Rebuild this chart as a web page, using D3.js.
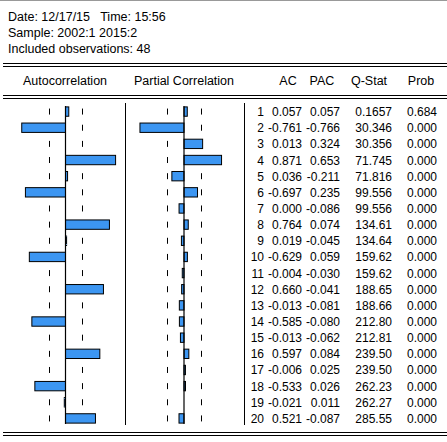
<!DOCTYPE html>
<html><head><meta charset="utf-8">
<script src="https://cdn.jsdelivr.net/npm/d3@7"></script>
<style>body{margin:0;background:#fff}svg{display:block}text{font-family:"Liberation Sans",Arial,sans-serif;font-size:12.5px;fill:#000;white-space:pre}.num{font-size:12px}</style>
</head><body>
<script>
const lags=d3.range(1,21);
const ac=[0.057,-0.761,0.013,0.871,0.036,-0.697,0.000,0.764,0.019,-0.629,-0.004,0.660,-0.013,-0.585,-0.013,0.597,-0.006,-0.533,-0.021,0.521];
const pac=[0.057,-0.766,0.324,0.653,-0.211,0.235,-0.086,0.074,-0.045,0.059,-0.030,-0.041,-0.081,-0.080,-0.062,0.084,0.025,0.026,0.011,-0.087];
const qstat=["0.1657","30.346","30.356","71.745","71.816","99.556","99.556","134.61","134.64","159.62","159.62","188.65","188.66","212.80","212.81","239.50","239.50","262.23","262.27","285.55"];
const prob=["0.684","0.000","0.000","0.000","0.000","0.000","0.000","0.000","0.000","0.000","0.000","0.000","0.000","0.000","0.000","0.000","0.000","0.000","0.000","0.000"];
const headerLines=["Date: 12/17/15   Time: 15:56","Sample: 2002:1 2015:2","Included observations: 48"];
const nobs=48, band=2/Math.sqrt(nobs);

const W=447,H=442;
const svg=d3.select("body").append("svg").attr("width",W).attr("height",H);
svg.append("line").attr("x1",0).attr("x2",W).attr("y1",0.5).attr("y2",0.5).attr("stroke","#999");
headerLines.forEach((t,i)=>svg.append("text").attr("x",8).attr("y",21+i*16).attr("xml:space","preserve").text(t));
function dbl(y){[y,y+3].forEach(yy=>svg.append("line").attr("x1",3).attr("x2",W).attr("y1",yy+0.5).attr("y2",yy+0.5).attr("stroke","#000"));}
dbl(63);dbl(95);dbl(432);
const hdr=[["Autocorrelation",65,"middle"],["Partial Correlation",184,"middle"],["AC",288,"middle"],["PAC",322,"middle"],["Q-Stat",369,"middle"],["Prob",421,"middle"]];
hdr.forEach(h=>svg.append("text").attr("x",h[1]).attr("y",85).attr("text-anchor",h[2]).text(h[0]));

const y=d3.scaleBand().domain(lags).range([103.5,426.5]).paddingInner(0.42).paddingOuter(0.21);
const rowC=l=>y(l)+y.bandwidth()/2;
[125,244].forEach(x=>svg.append("line").attr("x1",x+0.5).attr("x2",x+0.5).attr("y1",103).attr("y2",425).attr("stroke","#000"));

function panel(vals,cx){
  const x=d3.scaleLinear().domain([-1,1]).range([cx-57.5,cx+57.5]);
  const g=svg.append("g");
  lags.forEach((l,i)=>{
    const v=vals[i];
    [-band,band].forEach(b=>{
      const covered=(b<0&&v<=b)||(b>0&&v>=b);
      if(!covered) g.append("line").attr("x1",Math.round(x(b))+0.5).attr("x2",Math.round(x(b))+0.5)
        .attr("y1",rowC(l)-3).attr("y2",rowC(l)+3).attr("stroke","#000");
    });
    const x0=Math.min(x(0),x(v)),w=Math.abs(x(v)-x(0));
    if(w>=1) g.append("rect").attr("x",x0).attr("y",y(l)).attr("width",w).attr("height",y.bandwidth())
      .attr("fill","#3c96f2").attr("stroke","#000").attr("stroke-width",1);
  });
  g.append("line").attr("x1",x(0)).attr("x2",x(0)).attr("y1",y(1)-1).attr("y2",y(20)+y.bandwidth()+1).attr("stroke","#000").attr("stroke-width",1.2);
}
panel(ac,65.5);
panel(pac,184);

const cols=[[lags.map(String),264],[ac.map(d=>d.toFixed(3)),302],[pac.map(d=>d.toFixed(3)),340],[qstat,392],[prob,437]];
cols.forEach(([arr,x])=>arr.forEach((t,i)=>svg.append("text").attr("class","num").attr("x",x).attr("y",rowC(lags[i])+4.5).attr("text-anchor","end").text(t)));
</script>
</body></html>
